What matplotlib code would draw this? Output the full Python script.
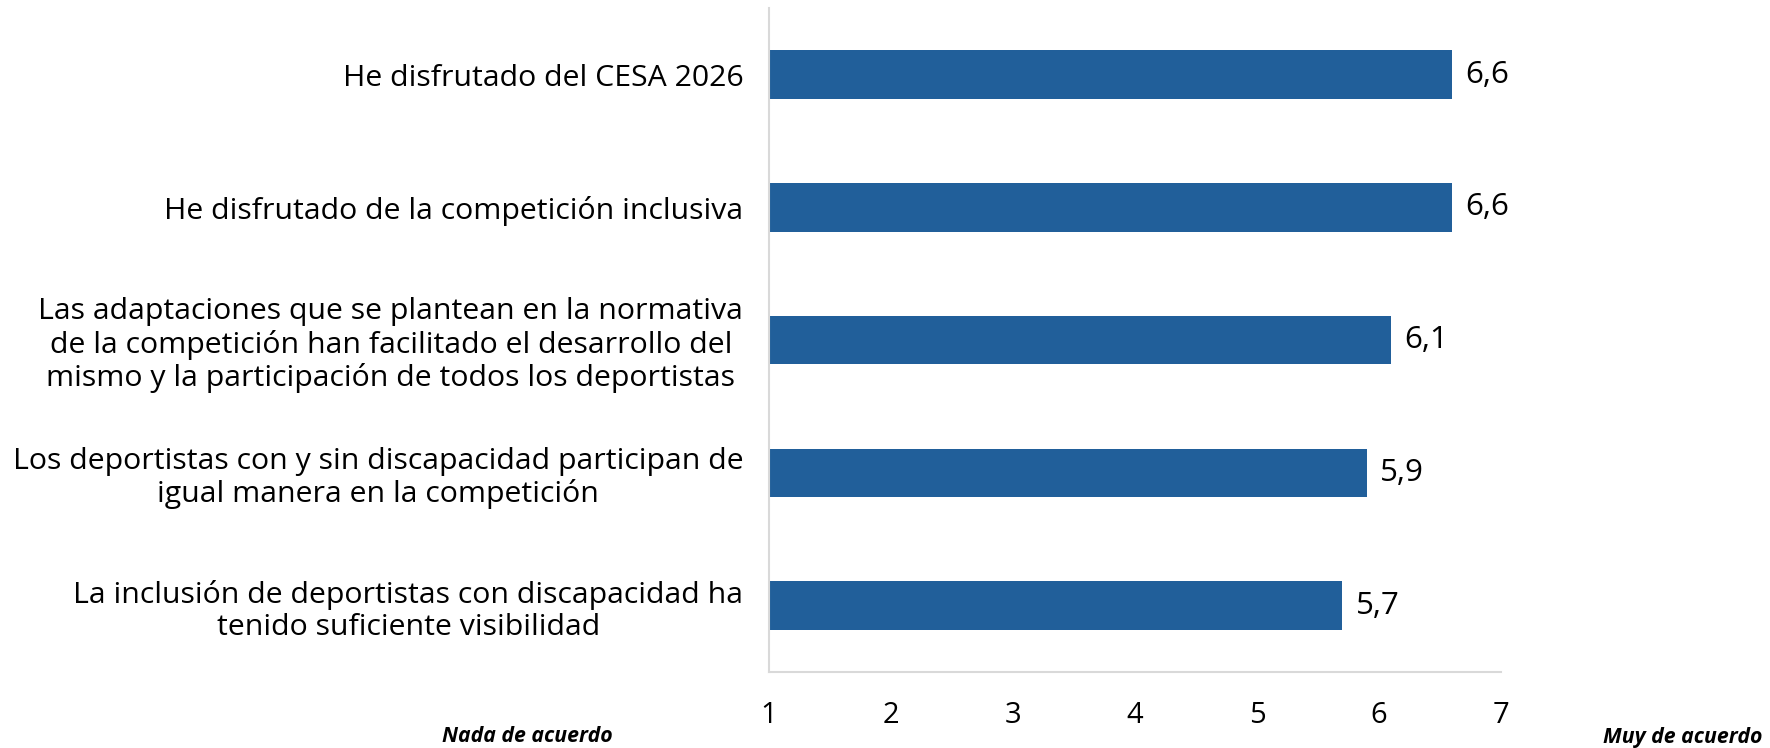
import matplotlib
matplotlib.use("Agg")
import matplotlib.pyplot as plt

categories = [
    "He disfrutado del CESA 2026",
    "He disfrutado de la competición inclusiva",
    "Las adaptaciones que se plantean en la normativa\nde la competición han facilitado el desarrollo del\nmismo y la participación de todos los deportistas",
    "Los deportistas con y sin discapacidad participan de\nigual manera en la competición",
    "La inclusión de deportistas con discapacidad ha\ntenido suficiente visibilidad",
]
values = [6.6, 6.6, 6.1, 5.9, 5.7]
value_labels = ["6,6", "6,6", "6,1", "5,9", "5,7"]
x_ticks = [1, 2, 3, 4, 5, 6, 7]
x_min_label = "Nada de acuerdo"
x_max_label = "Muy de acuerdo"

plt.rcParams['font.family'] = ['Open Sans', 'DejaVu Sans']

fig = plt.figure(figsize=(17.7, 7.48), dpi=100)
ax = fig.add_axes([0.4345, 0.1016, 0.8480 - 0.4345, 0.989 - 0.1016])

bar_color = "#215F9A"
y = list(range(len(categories)))
ax.barh(y, [v - x_ticks[0] for v in values], left=x_ticks[0], height=0.365, color=bar_color)
ax.set_ylim(len(categories) - 0.5, -0.5)
ax.set_xlim(x_ticks[0], x_ticks[-1])
ax.set_xticks(x_ticks)
ax.set_xticklabels([str(t) for t in x_ticks], fontsize=21, color="#000000")
ax.set_yticks(y)
ax.set_yticklabels(categories, fontsize=21.8, color="#000000", linespacing=1.15,
                   multialignment="center")
ax.tick_params(axis='both', length=0)
ax.tick_params(axis='y', pad=18.5)
ax.tick_params(axis='x', pad=21)

for s in ["top", "right"]:
    ax.spines[s].set_visible(False)
for s in ["left", "bottom"]:
    ax.spines[s].set_color("#D9D9D9")
    ax.spines[s].set_linewidth(1.5)

for yi, v, lab in zip(y, values, value_labels):
    ax.text(v + 0.11, yi, lab, va="center", ha="left", fontsize=22.5, color="#000000")

fig.text(613 / 1770, 1 - 737 / 748, x_min_label, ha="right", va="center",
         fontsize=15.3, fontweight="bold", fontstyle="italic", color="#000000")
fig.text(1762 / 1770, 1 - 737 / 748, x_max_label, ha="right", va="center",
         fontsize=15.3, fontweight="bold", fontstyle="italic", color="#000000")

fig.savefig("out.png", dpi=100, facecolor="white")
